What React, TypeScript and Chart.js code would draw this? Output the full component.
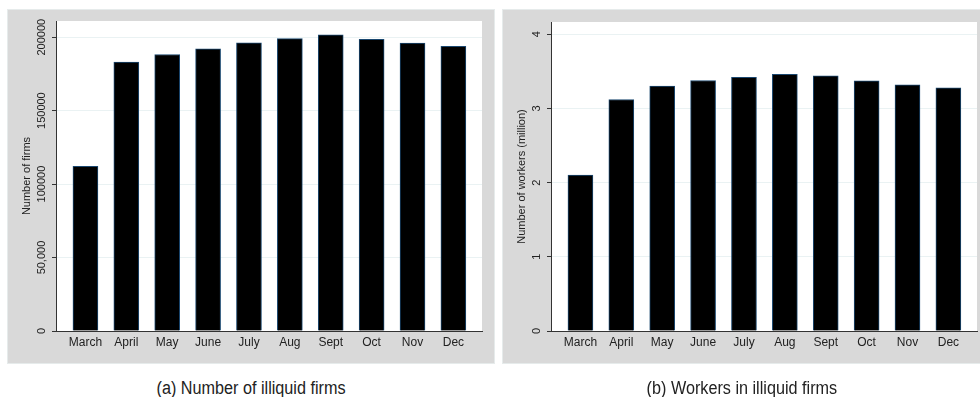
import React, { useEffect, useRef } from "react";
import { Chart, registerables } from "chart.js";

Chart.register(...registerables);

const months = ["March", "April", "May", "June", "July", "Aug", "Sept", "Oct", "Nov", "Dec"];
const firms = [112000, 183000, 188200, 192100, 196100, 199000, 201600, 198600, 195900, 193800];
const workers = [2.1, 3.12, 3.3, 3.376, 3.417, 3.46, 3.438, 3.371, 3.317, 3.277];
const firmTicks = [0, 50000, 100000, 150000, 200000];
const firmTickLabels = ["0", "50,000", "100000", "150000", "200000"];
const workerTicks = [0, 1, 2, 3, 4];
const workerTickLabels = ["0", "1", "2", "3", "4"];

const FONT = 'Arial, "Liberation Sans", sans-serif';

type PanelProps = {
  values: number[];
  yTicks: number[];
  yTickLabels: string[];
  yMax: number;
  yTitle: string;
  padRight: number;
  padTop: number;
  width: number;
  height: number;
  left: number;
  top: number;
};

function Panel(p: PanelProps) {
  const ref = useRef<HTMLCanvasElement>(null);
  useEffect(() => {
    if (!ref.current) return;
    const labelX = 34;
    const titleX = 19;
    const plugin = {
      id: "panelBg",
      beforeDraw(chart: any) {
        const { ctx, chartArea: a, width, height } = chart;
        ctx.save();
        ctx.fillStyle = "#d9d9d9";
        ctx.fillRect(0, 0, width, height);
        ctx.fillStyle = "#ffffff";
        ctx.fillRect(a.left, a.top, a.right - a.left, a.bottom - a.top);
        ctx.restore();
      },
      afterDraw(chart: any) {
        const { ctx, chartArea: a } = chart;
        const ys = chart.scales.y;
        ctx.save();
        ctx.fillStyle = "#222";
        ctx.font = "11px " + FONT;
        ctx.textAlign = "center";
        ctx.textBaseline = "middle";
        p.yTicks.forEach((v, i) => {
          const py = ys.getPixelForValue(v);
          ctx.save();
          ctx.translate(labelX, py);
          ctx.rotate(-Math.PI / 2);
          ctx.fillText(p.yTickLabels[i], 0, 0);
          ctx.restore();
        });
        ctx.save();
        ctx.translate(titleX, (a.top + a.bottom) / 2);
        ctx.rotate(-Math.PI / 2);
        ctx.fillText(p.yTitle, 0, 0);
        ctx.restore();
        ctx.restore();
      },
    };
    const chart = new Chart(ref.current, {
      type: "bar",
      data: {
        datasets: [
          {
            data: p.values.map((v, i) => ({ x: i, y: v })) as any,
            backgroundColor: "#000000",
            borderColor: "#1a476f",
            borderWidth: 1,
            barThickness: 25,
          },
        ],
      },
      options: {
        animation: false,
        responsive: false,
        maintainAspectRatio: false,
        devicePixelRatio: 1,
        layout: { padding: { left: 0, right: p.padRight, top: p.padTop, bottom: 0 } },
        plugins: { legend: { display: false }, tooltip: { enabled: false } },
        scales: {
          x: {
            type: "linear",
            min: -0.72,
            max: 9.7,
            offset: false,
            afterBuildTicks: (s: any) => {
              s.ticks = months.map((_, i) => ({ value: i }));
            },
            afterFit: (s: any) => {
              s.height = 32;
            },
            grid: { display: false, drawTicks: false, offset: false },
            border: { display: true, color: "#333", width: 1 },
            ticks: {
              callback: (v: any) => months[v as number],
              autoSkip: false,
              maxRotation: 0,
              minRotation: 0,
              padding: 4,
              color: "#222",
              font: { size: 12, family: FONT },
            },
          } as any,
          y: {
            min: 0,
            max: p.yMax,
            afterBuildTicks: (s: any) => {
              s.ticks = p.yTicks.map((v) => ({ value: v }));
            },
            afterFit: (s: any) => {
              s.width = 48;
            },
            grid: { color: "#eaf2f3", lineWidth: 1, drawTicks: true, tickLength: 4, tickColor: "#333" },
            border: { display: true, color: "#333", width: 1 },
            ticks: { display: false },
          } as any,
        },
      },
      plugins: [plugin],
    });
    return () => chart.destroy();
  }, []);
  return (
    <canvas
      ref={ref}
      width={p.width}
      height={p.height}
      style={{ position: "absolute", left: p.left, top: p.top, width: p.width, height: p.height, outline: "1px solid #e6ebeb" }}
    />
  );
}

const captionStyle: React.CSSProperties = {
  position: "absolute",
  top: 378,
  fontFamily: 'Arial, "Liberation Sans", sans-serif',
  fontSize: 18,
  lineHeight: "20px",
  color: "#222",
  textAlign: "center",
  whiteSpace: "nowrap",
};

const innerStyle: React.CSSProperties = {
  display: "inline-block",
  transform: "scaleX(0.9)",
  transformOrigin: "center",
};

export default function App() {
  return (
    <div style={{ position: "absolute", left: 0, top: 0, width: 980, height: 397, background: "#fff", overflow: "hidden" }}>
      <Panel
        values={firms}
        yTicks={firmTicks}
        yTickLabels={firmTickLabels}
        yMax={211000}
        yTitle="Number of firms"
        padRight={12}
        padTop={11}
        width={486}
        height={353}
        left={8}
        top={10}
      />
      <Panel
        values={workers}
        yTicks={workerTicks}
        yTickLabels={workerTickLabels}
        yMax={4.164}
        yTitle="Number of workers (million)"
        padRight={3}
        padTop={12}
        width={477}
        height={353}
        left={503}
        top={10}
      />
      <div style={{ ...captionStyle, left: 8, width: 486 }}>
        <span style={innerStyle}>(a) Number of illiquid firms</span>
      </div>
      <div style={{ ...captionStyle, left: 503, width: 477 }}>
        <span style={innerStyle}>(b) Workers in illiquid firms</span>
      </div>
    </div>
  );
}
